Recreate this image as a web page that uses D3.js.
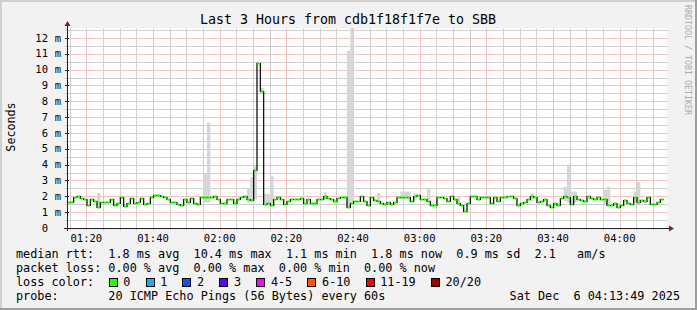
<!DOCTYPE html>
<html>
<head>
<meta charset="utf-8">
<script src="https://cdn.jsdelivr.net/npm/d3@7"></script>
<style>
body { margin: 0; background: #fff; }
svg text { font-family: "DejaVu Sans Mono", monospace; white-space: pre; }
</style>
</head>
<body>
<svg id="chart"></svg>
<script>
var w = 697;
var h = 310;

// one sample per minute, starting here
var startTime = Date.UTC(2025, 11, 6, 1, 14, 12);
var spanMinutes = 180;

// median rtt per sample, ms
var median = [
  1.65, 1.65, 1.95, 2.05, 1.9, 1.8, 1.45, 1.8, 1.7, 1.35,
  1.62, 1.62, 1.65, 1.82, 1.48, 1.55, 1.96, 1.37, 1.55, 1.9,
  1.6, 1.62, 1.9, 1.5, 1.55, 1.96, 2.1, 2.1, 2.05, 1.96,
  1.8, 1.65, 1.65, 1.5, 1.43, 1.8, 1.65, 1.9, 1.6, 1.5,
  1.95, 1.96, 1.93, 1.96, 2.0, 1.85, 1.6, 1.6, 1.85, 1.8,
  1.6, 1.85, 1.96, 2.03, 1.85, 1.75, 3.65, 10.4, 8.65, 1.5,
  1.55, 1.45, 1.8, 1.95, 1.8, 1.5, 1.7, 1.8, 1.8, 1.8,
  1.9, 1.6, 1.85, 1.6, 1.6, 1.8, 1.85, 2.0, 1.9, 1.8,
  1.7, 1.9, 1.95, 1.93, 1.35, 1.6, 1.7, 1.7, 2.05, 1.7,
  1.45, 1.95, 1.75, 1.7, 1.55, 1.5, 1.62, 1.5, 1.62, 1.95,
  1.95, 1.95, 1.95, 1.7, 2.0, 2.1, 1.85, 1.8, 1.7, 1.45,
  1.45, 1.95, 1.95, 1.9, 1.7, 2.05, 1.8, 1.55, 1.45, 1.1,
  1.6, 2.05, 2.05, 1.8, 1.95, 1.95, 1.95, 1.58, 1.95, 1.7,
  1.95, 1.95, 2.0, 2.05, 1.9, 1.45, 1.6, 1.65, 1.8, 2.05,
  1.95, 1.62, 1.7, 1.8, 1.45, 1.35, 1.55, 1.45, 1.9, 2.05,
  1.95, 1.5, 2.0, 1.8, 1.78, 1.7, 2.05, 1.9, 1.8, 1.95,
  1.8, 1.8, 1.45, 1.45, 1.6, 1.35, 1.45, 1.78, 1.6, 1.5,
  1.95, 1.65, 1.78, 1.72, 1.95, 1.5, 1.5, 1.65, 1.8
];

// smoke (ping spread) where it shows: [sample, low ms, high ms]
var smoke = [
  [9, 1.35, 2.2], [41, 1.6, 3.4], [42, 1.6, 6.65], [54, 1.6, 2.5],
  [55, 1.7, 3.2], [56, 1.8, 4.0], [58, 8.5, 8.85], [59, 1.45, 2.15],
  [60, 1.45, 2.15], [61, 1.45, 3.3], [77, 1.8, 2.25], [84, 1.35, 11.2],
  [85, 1.45, 12.8], [93, 1.6, 2.2], [100, 1.8, 2.3], [101, 1.8, 2.3],
  [102, 1.8, 2.3], [104, 1.8, 2.2], [108, 1.6, 2.5], [117, 1.5, 2.0],
  [139, 1.7, 2.2], [149, 1.7, 2.6], [150, 1.6, 4.0], [151, 1.5, 2.3],
  [152, 1.6, 2.3], [161, 1.5, 2.4], [162, 1.45, 2.6], [170, 1.6, 2.3],
  [171, 1.5, 2.9]
];

var yTicks = [0, 1, 2, 3, 4, 5, 6, 7, 8, 9, 10, 11, 12];
var yMax = 12.63;

var title = 'Last 3 Hours from cdb1f18f1f7e to SBB';
var rttLine = 'median rtt:  1.8 ms avg  10.4 ms max  1.1 ms min  1.8 ms now  0.9 ms sd  2.1   am/s';
var lossLine = 'packet loss: 0.00 % avg  0.00 % max  0.00 % min  0.00 % now';
var probeLine = 'probe:       20 ICMP Echo Pings (56 Bytes) every 60s';
var dateLine = 'Sat Dec  6 04:13:49 2025';
var lossLabels = ['0', '1', '2', '3', '4-5', '6-10', '11-19', '20/20'];
var lossColors = ['#26ff00', '#00b8ff', '#0059ff', '#5e00ff', '#ff00ff', '#ff5500', '#ff0000', '#a10000'];

var pLeft = 67, pRight = 667, pTop = 28, pBottom = 228;

var svg = d3.select('#chart').attr('width', w).attr('height', h);

// frame
svg.append('rect').attr('width', w).attr('height', h).attr('fill', '#f2f2f2');
svg.append('path').attr('d', 'M0,1H' + w + 'M1,0V' + h).attr('stroke', '#cfcfcf').attr('stroke-width', 2);
svg.append('path').attr('d', 'M0,' + (h - 1) + 'H' + w + 'M' + (w - 1) + ',0V' + h).attr('stroke', '#9e9e9e').attr('stroke-width', 2);
svg.append('rect').attr('x', pLeft).attr('y', pTop).attr('width', pRight - pLeft).attr('height', pBottom - pTop).attr('fill', '#fff');

var x = d3.scaleUtc()
  .domain([startTime, startTime + spanMinutes * 60000])
  .range([pLeft, pRight]);
var y = d3.scaleLinear().domain([0, yMax]).range([pBottom, pTop]);

var endDate = new Date(startTime + spanMinutes * 60000);
var minorX = d3.utcMinute.every(5).range(new Date(startTime), endDate);
var majorX = d3.utcMinute.every(20).range(new Date(startTime), endDate);
var minorY = d3.range(1, 26).map(function (k) { return k / 2; });

var gridMinor = '#cfcfcf';
var gridMajor = '#f4c0c0';

var grid = svg.append('g').attr('shape-rendering', 'crispEdges');
grid.selectAll('line.v')
  .data(minorX)
  .enter()
  .append('line')
  .attr('class', 'v')
  .attr('x1', function (d) { return Math.round(x(d)) + 0.5; })
  .attr('x2', function (d) { return Math.round(x(d)) + 0.5; })
  .attr('y1', pTop).attr('y2', pBottom + 3)
  .attr('stroke', function (d) { return d.getUTCMinutes() % 20 === 0 ? gridMajor : gridMinor; });
grid.selectAll('line.hz')
  .data(minorY)
  .enter()
  .append('line')
  .attr('class', 'hz')
  .attr('x1', pLeft - 2).attr('x2', pRight + 1)
  .attr('y1', function (d) { return Math.round(y(d)) + 0.5; })
  .attr('y2', function (d) { return Math.round(y(d)) + 0.5; })
  .attr('stroke', function (d) { return d % 1 === 0 ? gridMajor : gridMinor; });

// smoke
var stepW = x(startTime + 60000) - x(startTime);
svg.append('g').selectAll('rect')
  .data(smoke)
  .enter()
  .append('rect')
  .attr('x', function (d) { return x(startTime + d[0] * 60000); })
  .attr('width', stepW)
  .attr('y', function (d) { return y(Math.min(d[2], yMax)); })
  .attr('height', function (d) { return y(d[1]) - y(Math.min(d[2], yMax)); })
  .attr('fill', '#d6d6d6');

// median: black step line with green per-sample dashes
var pts = median.map(function (v, i) { return [startTime + i * 60000, v]; });
pts.push([startTime + median.length * 60000, median[median.length - 1]]);
var line = d3.line()
  .x(function (d) { return x(d[0]); })
  .y(function (d) { return Math.round(y(d[1])) + 0.5; })
  .curve(d3.curveStepAfter);
svg.append('path').datum(pts).attr('d', line)
  .attr('fill', 'none').attr('stroke', '#000').attr('stroke-width', 1.2);
svg.append('g').selectAll('line')
  .data(median)
  .enter()
  .append('line')
  .attr('x1', function (d, i) { return x(startTime + i * 60000) + 0.3; })
  .attr('x2', function (d, i) { return x(startTime + (i + 1) * 60000) - 0.3; })
  .attr('y1', function (d) { return Math.round(y(d)) + 0.5; })
  .attr('y2', function (d) { return Math.round(y(d)) + 0.5; })
  .attr('stroke', lossColors[0]).attr('stroke-width', 2.2);

// axes
var axis = svg.append('g').attr('shape-rendering', 'crispEdges');
axis.append('line').attr('x1', pLeft - 3).attr('x2', pRight + 3).attr('y1', pBottom + 0.5).attr('y2', pBottom + 0.5).attr('stroke', '#1f1f1f');
axis.append('line').attr('x1', pLeft + 0.5).attr('x2', pLeft + 0.5).attr('y1', pBottom + 3).attr('y2', pTop - 3).attr('stroke', '#1f1f1f');
svg.append('path').attr('d', 'M' + (pRight + 7) + ',' + (pBottom + 0.5) + 'l-5,-3v6z').attr('fill', '#7f1f1f');
svg.append('path').attr('d', 'M' + (pLeft + 0.5) + ',' + (pTop - 7) + 'l-3,5h6z').attr('fill', '#7f1f1f');
axis.selectAll('line.yt')
  .data(yTicks)
  .enter()
  .append('line')
  .attr('x1', pLeft - 2).attr('x2', pLeft + 2)
  .attr('y1', function (d) { return Math.round(y(d)) + 0.5; })
  .attr('y2', function (d) { return Math.round(y(d)) + 0.5; })
  .attr('stroke', '#1f1f1f');

var fmt = d3.utcFormat('%H:%M');
svg.selectAll('text.xl')
  .data(majorX)
  .enter()
  .append('text')
  .attr('x', function (d) { return x(d); })
  .attr('y', 241.5)
  .attr('text-anchor', 'middle')
  .attr('font-size', '10.5px')
  .text(function (d) { return fmt(d); });

svg.selectAll('text.yn')
  .data(yTicks)
  .enter()
  .append('text')
  .attr('x', 48)
  .attr('y', function (d) { return y(d) + 3.6; })
  .attr('text-anchor', 'end')
  .attr('font-size', '10.5px')
  .text(function (d) { return d; });
svg.selectAll('text.yu')
  .data(yTicks.filter(function (d) { return d > 0; }))
  .enter()
  .append('text')
  .attr('x', 61)
  .attr('y', function (d) { return y(d) + 3.6; })
  .attr('text-anchor', 'end')
  .attr('font-size', '10.5px')
  .text('m');

// titles
svg.append('text').attr('x', 348).attr('y', 24).attr('text-anchor', 'middle')
  .attr('font-size', '13.3px').text(title);
svg.append('text').attr('transform', 'translate(15,127) rotate(-90)').attr('text-anchor', 'middle')
  .attr('font-size', '11.7px').text('Seconds');
svg.append('text').attr('transform', 'translate(685,5) rotate(90)').attr('text-anchor', 'start')
  .attr('font-size', '8.3px').attr('fill', '#ababab').text('RRDTOOL / TOBI OETIKER');

// legend
var fs = '11.8px';
var cw = 7.1;
svg.append('text').attr('x', 16).attr('y', 258).attr('font-size', fs).text(rttLine);
svg.append('text').attr('x', 16).attr('y', 272).attr('font-size', fs).text(lossLine);
svg.append('text').attr('x', 16).attr('y', 286).attr('font-size', fs).text('loss color:');
svg.append('text').attr('x', 16).attr('y', 300).attr('font-size', fs).text(probeLine);
svg.append('text').attr('x', 680).attr('y', 300).attr('text-anchor', 'end').attr('font-size', fs).text(dateLine);

var bx = 108.7;
var boxes = lossLabels.map(function (l, i) {
  var b = { label: l, color: lossColors[i], x: bx };
  bx = bx + 14.6 + l.length * cw + 15.2;
  return b;
});
var lg = svg.append('g').selectAll('g').data(boxes).enter().append('g');
lg.append('rect')
  .attr('x', function (d) { return Math.round(d.x) + 0.5; })
  .attr('y', 278.5).attr('width', 8).attr('height', 8)
  .attr('fill', function (d) { return d.color; })
  .attr('stroke', '#000').attr('shape-rendering', 'crispEdges');
lg.append('text')
  .attr('x', function (d) { return d.x + 14.6; })
  .attr('y', 286).attr('font-size', fs)
  .text(function (d) { return d.label; });
</script>
</body>
</html>
